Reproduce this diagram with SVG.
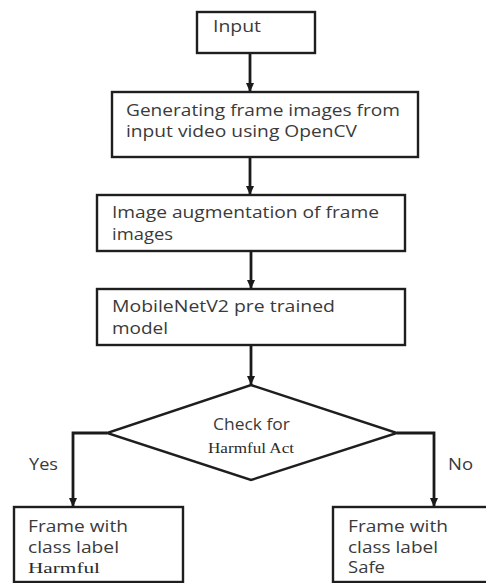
<svg xmlns="http://www.w3.org/2000/svg" width="486" height="583" viewBox="0 0 486 583">
  <style>
    .box { fill: #ffffff; stroke: #1e1e1e; stroke-width: 2.4; }
    .wire { fill: none; stroke: #1a1a1a; stroke-width: 2.8; }
    .lbl { font-family: "Open Sans", "Liberation Sans", sans-serif; font-size: 15.5px; fill: #3a3a3a; }
    .ser { font-family: "Liberation Serif", "Times New Roman", serif; font-size: 15px; fill: #2a2a2a; }
  </style>
  <defs>
    <marker id="arrow" markerUnits="userSpaceOnUse" markerWidth="10" markerHeight="8" refX="9" refY="4" orient="auto">
      <path d="M0,0 L9,4 L0,8 Z" fill="#1a1a1a"/>
    </marker>
  </defs>
  <rect width="486" height="583" fill="#ffffff"/>

  <g id="connectors">
    <line class="wire" x1="250" y1="53" x2="250" y2="92" marker-end="url(#arrow)"/>
    <line class="wire" x1="250" y1="157" x2="250" y2="195" marker-end="url(#arrow)"/>
    <line class="wire" x1="251" y1="251" x2="251" y2="289" marker-end="url(#arrow)"/>
    <line class="wire" x1="251" y1="345" x2="251" y2="385" marker-end="url(#arrow)"/>
    <path class="wire" d="M107,433 H73 V507" marker-end="url(#arrow)"/>
    <path class="wire" d="M397,433 H434 V507" marker-end="url(#arrow)"/>
    <text class="lbl" x="29" y="470" textLength="29" lengthAdjust="spacingAndGlyphs">Yes</text>
    <text class="lbl" x="448" y="470" textLength="25" lengthAdjust="spacingAndGlyphs">No</text>
  </g>

  <g id="input">
    <rect class="box" x="197" y="12" width="118" height="41"/>
    <text class="lbl" x="213" y="32" textLength="48" lengthAdjust="spacingAndGlyphs">Input</text>
  </g>

  <g id="frames">
    <rect class="box" x="112" y="92" width="306" height="65"/>
    <text class="lbl" x="126" y="116" textLength="274" lengthAdjust="spacingAndGlyphs">Generating frame images from</text>
    <text class="lbl" x="126" y="137" textLength="231" lengthAdjust="spacingAndGlyphs">input video using OpenCV</text>
  </g>

  <g id="augment">
    <rect class="box" x="97" y="195" width="308" height="56"/>
    <text class="lbl" x="112" y="218" textLength="267" lengthAdjust="spacingAndGlyphs">Image augmentation of frame</text>
    <text class="lbl" x="112" y="240" textLength="61" lengthAdjust="spacingAndGlyphs">images</text>
  </g>

  <g id="model">
    <rect class="box" x="97" y="289" width="308" height="56"/>
    <text class="lbl" x="112" y="312" textLength="223" lengthAdjust="spacingAndGlyphs">MobileNetV2 pre trained</text>
    <text class="lbl" x="112" y="334" textLength="56" lengthAdjust="spacingAndGlyphs">model</text>
  </g>

  <g id="decision">
    <polygon class="box" points="251,385 397,433 251,480 107,433"/>
    <text class="lbl" x="213" y="430" textLength="77" lengthAdjust="spacingAndGlyphs">Check for</text>
    <text class="ser" x="208" y="453" textLength="86" lengthAdjust="spacingAndGlyphs">Harmful Act</text>
  </g>

  <g id="harmful">
    <rect class="box" x="14" y="507" width="169" height="75"/>
    <text class="lbl" x="28" y="532" textLength="100" lengthAdjust="spacingAndGlyphs">Frame with</text>
    <text class="lbl" x="28" y="553" textLength="91" lengthAdjust="spacingAndGlyphs">class label</text>
    <text class="ser" x="28" y="573" textLength="72" lengthAdjust="spacingAndGlyphs">Harmful</text>
  </g>

  <g id="safe">
    <rect class="box" x="333" y="507" width="160" height="75"/>
    <text class="lbl" x="348" y="532" textLength="100" lengthAdjust="spacingAndGlyphs">Frame with</text>
    <text class="lbl" x="348" y="553" textLength="90" lengthAdjust="spacingAndGlyphs">class label</text>
    <text class="lbl" x="348" y="573" textLength="37" lengthAdjust="spacingAndGlyphs">Safe</text>
  </g>
</svg>
